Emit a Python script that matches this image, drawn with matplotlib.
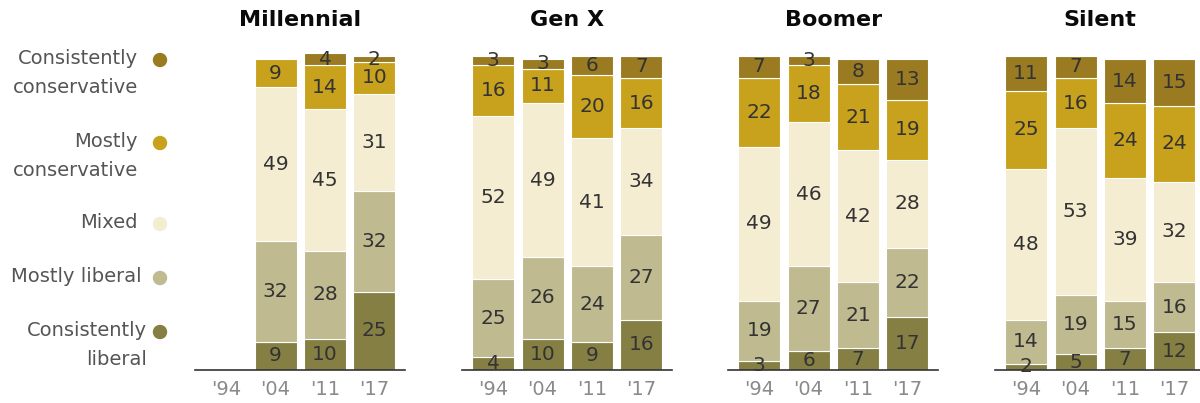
import matplotlib
matplotlib.use("Agg")
import matplotlib.pyplot as plt
import numpy as np

generations = ["Millennial", "Gen X", "Boomer", "Silent"]
years = ["'94", "'04", "'11", "'17"]
categories = ["Consistently liberal", "Mostly liberal", "Mixed",
              "Mostly conservative", "Consistently conservative"]

# values per generation: rows = years, cols = categories (bottom to top)
millennial = [None, [9, 32, 49, 9, 0], [10, 28, 45, 14, 4], [25, 32, 31, 10, 2]]
gen_x = [[4, 25, 52, 16, 3], [10, 26, 49, 11, 3], [9, 24, 41, 20, 6], [16, 27, 34, 16, 7]]
boomer = [[3, 19, 49, 22, 7], [6, 27, 46, 18, 3], [7, 21, 42, 21, 8], [17, 22, 28, 19, 13]]
silent = [[2, 14, 48, 25, 11], [5, 19, 53, 16, 7], [7, 15, 39, 24, 14], [12, 16, 32, 24, 15]]
data = [millennial, gen_x, boomer, silent]

colors = ["#857f44", "#bfba8f", "#f4edd2", "#c9a21d", "#9a7b22"]

FONT = "DejaVu Sans"
fig = plt.figure(figsize=(12, 4.03), dpi=100)

ax_lefts = [195, 462, 728, 995]
ax_w = 210
base_px = 370
px_per_unit = 3.14
ymax = 106
for gi, (gen, gdata) in enumerate(zip(generations, data)):
    ax = fig.add_axes([ax_lefts[gi] / 1200, (403 - base_px) / 403,
                       ax_w / 1200, ymax * px_per_unit / 403])
    x = np.arange(len(years))
    for yi, vals in enumerate(gdata):
        if vals is None:
            continue
        bottom = 0
        for ci, v in enumerate(vals):
            if v > 0:
                ax.bar(x[yi], v, bottom=bottom, width=0.85, color=colors[ci],
                       edgecolor="white", linewidth=0.8)
                ax.text(x[yi], bottom + v / 2, str(v), ha="center", va="center",
                        fontsize=14.5, color="#333333", family=FONT)
            bottom += v
    ax.set_xlim(-0.63, 3.62)
    ax.set_ylim(0, ymax)
    ax.set_xticks(x)
    ax.set_xticklabels(years, fontsize=14, color="#8a8a8a", family=FONT)
    ax.tick_params(axis="x", length=0, pad=7)
    ax.set_yticks([])
    for s in ["top", "right", "left"]:
        ax.spines[s].set_visible(False)
    ax.spines["bottom"].set_color("#333333")
    ax.spines["bottom"].set_linewidth(1.2)
    fig.text((ax_lefts[gi] + 31 + 1.5 * 49.5) / 1200, 1 - 20 / 403, gen,
             ha="center", va="center", fontsize=16, fontweight="bold",
             color="#0a0a0a", family=FONT)

# legend on left
legend_items = [
    ("Consistently\nconservative", 60, 138, colors[4]),
    ("Mostly\nconservative", 143, 138, colors[3]),
    ("Mixed", 224, 138, colors[2]),
    ("Mostly liberal", 278, 142, colors[1]),
    ("Consistently\nliberal", 332, 147, colors[0]),
]
for label, ypx, xr, col in legend_items:
    fig.text(xr / 1200, 1 - (ypx - 11) / 403, label, ha="right", va="top",
             fontsize=14, color="#555555", family=FONT, linespacing=1.65)
    fig.patches.append(matplotlib.patches.Ellipse(
        (160 / 1200, 1 - ypx / 403), 13 / 1200, 13 / 403,
        transform=fig.transFigure, color=col, zorder=5))

fig.savefig("out.png", dpi=100)
